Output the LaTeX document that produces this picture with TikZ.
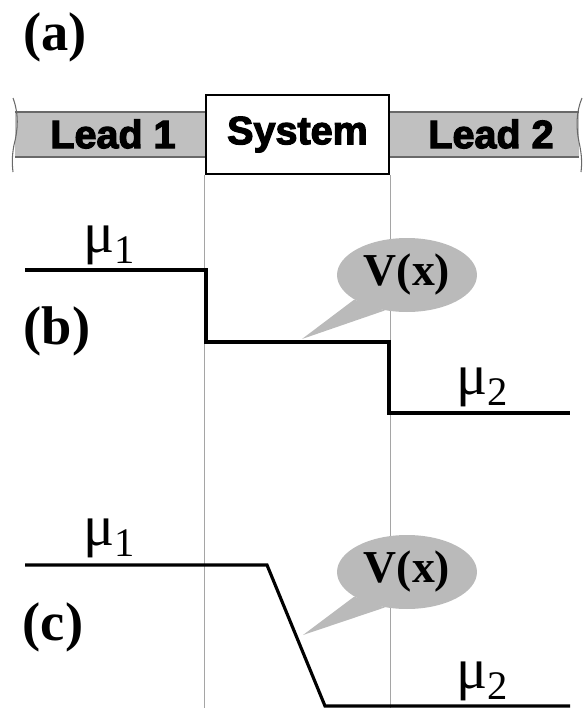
\documentclass[tikz,border=0pt]{standalone}
\usepackage{fontspec}
\setmainfont{Liberation Serif}
\newfontfamily\heavyfont[FakeBold=3]{Liberation Sans Bold}
\usepackage{tikz}
\usetikzlibrary{shapes.geometric}
\definecolor{leadgray}{RGB}{192,192,192}
\definecolor{edgegray}{RGB}{105,105,105}
\definecolor{bubblegray}{RGB}{186,186,186}
\definecolor{guidegray}{RGB}{165,165,165}

\begin{document}
\begin{tikzpicture}[x=0.02cm,y=-0.02cm,
  panel/.style={font=\fontsize{31}{31}\selectfont\bfseries,inner sep=0pt},
  lead/.style={font=\heavyfont\fontsize{22.5}{22.5}\selectfont,inner sep=0pt},
  sysbox/.style={draw,line width=1.6pt,fill=white,minimum width=3.66cm,minimum height=1.58cm,inner sep=0pt,font=\heavyfont\fontsize{22.5}{22.5}\selectfont},
  bubble/.style={ellipse,fill=bubblegray,minimum width=2.8cm,minimum height=1.48cm,inner sep=0pt,font=\fontsize{26}{26}\selectfont\bfseries},
  mulab/.style={font=\fontsize{33}{33}\selectfont,inner sep=0pt},
  level/.style={line width=1.8pt},
  guide/.style={guidegray,line width=0.6pt}]
\useasboundingbox (0,0) rectangle (584,708);
\fill[leadgray] (15,112) rectangle (579,157);
\draw[edgegray,line width=0.8pt] (15,112) -- (579,112) (15,157) -- (579,157);
\draw[edgegray,line width=0.6pt] (13,98) .. controls (19,114) and (18,130) .. (14,145) .. controls (12,155) and (12,164) .. (13,172);
\draw[edgegray,line width=0.6pt] (582,98) .. controls (576,112) and (576,128) .. (579,142) .. controls (582,155) and (582,164) .. (581,172);
\node[sysbox] (sys) at (297.5,134.5) {System};
\node[lead] (lead1) at (113,134) {Lead 1};
\node[lead] (lead2) at (491,134) {Lead 2};
\foreach \a in {south west,south east} \draw[guide] (sys.\a) -- ++(0,534);
\node[panel] (pa) at (55,37) {(a)};
\node[panel] (pb) at (57,331) {(b)};
\node[panel] (pc) at (53,627) {(c)};
\draw[level] (25,270) -| (206,342) -| (389,413) -- (570,413);
\draw[level] (25,565) -- (267,565) -- (325,706) -- (570,706);
\node[mulab] (mub1) at (110,245) {μ\textsubscript{1}};
\node[mulab] (mub2) at (483,387) {μ\textsubscript{2}};
\node[mulab] (muc1) at (110,538) {μ\textsubscript{1}};
\node[mulab] (muc2) at (483,681) {μ\textsubscript{2}};
\coordinate (tipb) at (302,339);
\coordinate (tipc) at (303,635);
\foreach \v/\y in {b/275,c/572} {
  \node[bubble] (v\v) at (407,\y) {V(x)};
  \fill[bubblegray] (tip\v) -- (v\v.205) -- (v\v.238) -- cycle;
}
\end{tikzpicture}
\end{document}
